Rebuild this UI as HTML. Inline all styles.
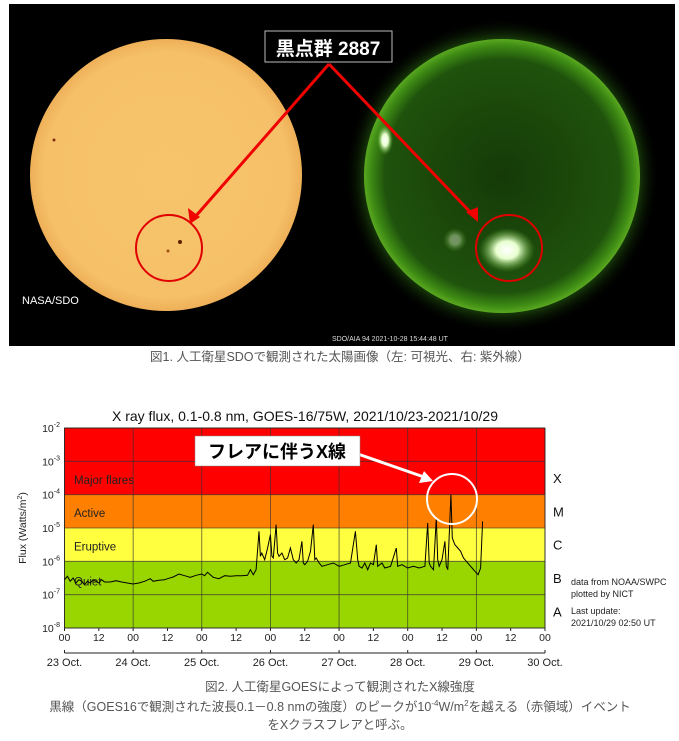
<!DOCTYPE html>
<html><head><meta charset="utf-8"><style>
body{margin:0;background:#fff;width:679px;height:741px;overflow:hidden;font-family:"Liberation Sans","Noto Sans CJK JP",sans-serif}
svg{position:absolute;left:0;top:0}
</style></head><body>
<svg width="679" height="741" viewBox="0 0 679 741">
<defs>
<radialGradient id="ys" cx="50%" cy="50%" r="50%"><stop offset="0" stop-color="#f7c46c"/><stop offset="0.9" stop-color="#f5c068"/><stop offset="1" stop-color="#eeb058"/></radialGradient>
<radialGradient id="gs" cx="50%" cy="50%" r="50%"><stop offset="0" stop-color="#153a08"/><stop offset="0.85" stop-color="#1f520c"/><stop offset="0.95" stop-color="#3d8a14"/><stop offset="1" stop-color="#5aa820"/></radialGradient>
<radialGradient id="gl" cx="50%" cy="50%" r="50%"><stop offset="0.86" stop-color="#2a6a10" stop-opacity="0.6"/><stop offset="1" stop-color="#000" stop-opacity="0"/></radialGradient>
<radialGradient id="fl" cx="50%" cy="50%" r="50%"><stop offset="0" stop-color="#fff"/><stop offset="0.4" stop-color="#e8ffd0"/><stop offset="1" stop-color="#60b030" stop-opacity="0"/></radialGradient>
</defs>
<g>
<rect x="9" y="4" width="666" height="342" fill="#000"/>
<ellipse cx="502" cy="176" rx="158" ry="158" fill="url(#gl)"/>
<ellipse cx="166" cy="175" rx="136" ry="136" fill="url(#ys)"/>
<ellipse cx="502" cy="176" rx="138" ry="137" fill="url(#gs)"/>
<ellipse cx="385" cy="140" rx="8" ry="15" fill="url(#fl)"/>
<ellipse cx="507" cy="250" rx="28" ry="22" fill="url(#fl)"/>
<ellipse cx="455" cy="240" rx="12" ry="12" fill="url(#fl)" opacity="0.4"/>
<circle cx="180" cy="242" r="2" fill="#602000"/><circle cx="168" cy="251" r="1.5" fill="#a05010"/><circle cx="54" cy="140" r="1.5" fill="#803010"/>
<text x="22" y="304" fill="#fff" font-size="11">NASA/SDO</text>
<text x="332" y="341" fill="#ddd" font-size="7">SDO/AIA   94    2021-10-28 15:44:48 UT</text>
<ellipse cx="169" cy="248" rx="33" ry="33" fill="none" stroke="#e00000" stroke-width="2"/>
<ellipse cx="509" cy="248" rx="33" ry="33" fill="none" stroke="#e00000" stroke-width="2"/>
<g stroke="#f00000" stroke-width="3" fill="#f00000">
<line x1="329" y1="64" x2="195" y2="217"/><line x1="329" y1="64" x2="473" y2="215"/>
<polygon points="190,224 188,208 200,217" stroke="none"/><polygon points="478,222 466,212 478,207" stroke="none"/>
</g>
<rect x="265" y="31" width="127" height="31" fill="#000" stroke="#bbb" stroke-width="1"/>
<text x="328" y="55" fill="#fff" font-size="19" font-weight="bold" text-anchor="middle">黒点群 2887</text>
</g>
<text x="340" y="361" fill="#555" font-size="12.5" text-anchor="middle">図1. 人工衛星SDOで観測された太陽画像（左: 可視光、右: 紫外線）</text>
<g id="chart"></g>
<text x="340" y="691" fill="#555" font-size="12.5" text-anchor="middle">図2. 人工衛星GOESによって観測されたX線強度</text>
<text x="340" y="711" fill="#555" font-size="12.5" text-anchor="middle">黒線（GOES16で観測された波長0.1－0.8 nmの強度）のピークが10<tspan font-size="8" dy="-5">-4</tspan><tspan dy="5">W/m</tspan><tspan font-size="8" dy="-5">2</tspan><tspan dy="5">を越える（赤領域）イベント</tspan></text>
<text x="340" y="729" fill="#555" font-size="12.5" text-anchor="middle">をXクラスフレアと呼ぶ。</text>
</svg>
<script>
const hours=[0,1,2,3,4,5,6,7,8,9,10,11,12,13,14,16,18,20,22,24,26,28,30,31,33,35,36,38,40,42,44,46,48,49,50,52,54,56,58,60,62,64,65,66,67,68,68.5,69,70,71,72,72.5,73,74,74.5,75,76,77,78,79,80,81,82,83,83.5,84,85,86,87,87.5,88,89,90,92,94,96,98,100,101.7,102.5,103,104,105,106,107,108,109,109.5,111,112,114,116,116.5,118,120,122,124,126,127,127.5,128,129,130,130.5,131,132,133,133.5,134,135.1,135.6,136.5,137.5,138.5,139.5,140.5,141.5,142.5,143.5,144.6,145.5,146.2];
const logFlux=[-6.55,-6.45,-6.6,-6.5,-6.65,-6.55,-6.6,-6.7,-6.6,-6.65,-6.55,-6.6,-6.65,-6.55,-6.62,-6.62,-6.58,-6.62,-6.65,-6.68,-6.65,-6.6,-6.52,-6.6,-6.57,-6.55,-6.52,-6.47,-6.38,-6.43,-6.48,-6.42,-6.38,-6.43,-6.33,-6.48,-6.52,-6.43,-6.45,-6.43,-6.43,-6.42,-6.25,-6.4,-6.25,-5.1,-5.85,-5.75,-5.95,-5.6,-5.2,-5.85,-5.9,-4.9,-5.75,-5.85,-5.75,-5.95,-5.9,-5.6,-5.95,-6.05,-5.95,-5.4,-6.05,-6.1,-6.0,-5.7,-4.9,-5.95,-5.9,-6.05,-6.15,-6.1,-6.05,-6.15,-6.1,-6.05,-5.1,-5.95,-6.15,-6.2,-6.05,-6.25,-6.05,-6.1,-5.5,-6.15,-6.05,-6.2,-6.15,-5.6,-6.15,-6.1,-6.2,-6.15,-6.2,-6.15,-4.85,-6.05,-6.15,-6.25,-4.7,-5.95,-6.15,-5.95,-5.4,-6.15,-6.25,-4.0,-5.3,-5.5,-5.6,-5.7,-5.9,-6.0,-6.1,-6.2,-6.3,-6.4,-6.2,-4.8];
const yTickExp=[-2,-3,-4,-5,-6,-7,-8];
const hourLabels=["00","12","00","12","00","12","00","12","00","12","00","12","00","12","00"];
const dayLabels=["23 Oct.","24 Oct.","25 Oct.","26 Oct.","27 Oct.","28 Oct.","29 Oct.","30 Oct."];
const bands=[{lo:-4,hi:-2,c:"#ff0000",cls:"X",cy:-3.5},{lo:-5,hi:-4,c:"#ff8000",cls:"M",cy:-4.5},{lo:-6,hi:-5,c:"#ffff40",cls:"C",cy:-5.5},{lo:-7,hi:-6,c:"#99d600",cls:"B",cy:-6.5},{lo:-8,hi:-7,c:"#99d600",cls:"A",cy:-7.5}];
const L=64.5,R=545,T=428,B=628;
const xs=h=>L+(R-L)*h/168, ys=v=>T+(B-T)*(-2-v)/6;
const NS="http://www.w3.org/2000/svg", g=document.getElementById('chart');
function mk(t,a,txt){const e=document.createElementNS(NS,t);for(const k in a)e.setAttribute(k,a[k]);if(txt!=null)e.textContent=txt;g.appendChild(e);return e;}
bands.forEach(b=>{
 const r=mk('rect',{x:L,y:ys(b.hi),width:R-L,height:ys(b.lo)-ys(b.hi),fill:b.c});
 
 
 const c=mk('text',{x:553,y:ys(b.cy)+5,'font-size':13,fill:'#111'},b.cls);
 
 
});
[["Major flares",-3.56],["Active",-4.55],["Eruptive",-5.55],["Quiet",-6.6]].forEach(a=>{
 const t=mk('text',{x:74,y:ys(a[1])+4,'font-size':11.5,fill:'#222'},a[0]);
 
 
});
yTickExp.forEach(e=>{
 const l=mk('line',{x1:L,x2:R,y1:ys(e),y2:ys(e),stroke:'#333','stroke-width':0.8,opacity:0.8});
 
 
 const t=mk('text',{x:60,y:ys(e)+4,'font-size':10.5,fill:'#222','text-anchor':'end'});
 
 
 t.innerHTML='10<tspan font-size="7" dy="-5">'+e+'</tspan>';
});
for(let i=0;i<=7;i++){
 const l=mk('line',{x1:xs(i*24),x2:xs(i*24),y1:T,y2:B,stroke:'#333','stroke-width':0.8,opacity:0.8});
 
 
 const t=mk('text',{x:xs(i*24),y:666,'font-size':11,fill:'#222','text-anchor':'middle'},dayLabels[i]);
 
 
}
hourLabels.forEach((s,i)=>{
 const t=mk('text',{x:xs(i*12),y:641,'font-size':10.5,fill:'#222','text-anchor':'middle'},s);
 
 
 mk('line',{x1:xs(i*12),x2:xs(i*12),y1:B,y2:B+3,stroke:'#222'});
});
mk('line',{x1:L,x2:R,y1:653,y2:653,stroke:'#222'});
for(let i=0;i<=7;i++)mk('line',{x1:xs(i*24),x2:xs(i*24),y1:650,y2:653,stroke:'#222'});
const fr=mk('rect',{x:L,y:T,width:R-L,height:B-T,fill:'none',stroke:'#222','stroke-width':0.8});


const p=mk('path',{d:hours.map((h,i)=>(i?'L':'M')+xs(h).toFixed(1)+','+ys(logFlux[i]).toFixed(1)).join(''),fill:'none',stroke:'#000','stroke-width':1});


const tt=mk('text',{x:305,y:421,'font-size':14,fill:'#111','text-anchor':'middle'},'X ray flux, 0.1-0.8 nm, GOES-16/75W, 2021/10/23-2021/10/29');


const yt=mk('text',{x:0,y:0,'font-size':10.5,fill:'#222','text-anchor':'middle',transform:'translate(26,528) rotate(-90)'});


yt.innerHTML='Flux (Watts/m<tspan font-size="7" dy="-4">2</tspan><tspan dy="4">)</tspan>';
[["data from NOAA/SWPC",585],["plotted by NICT",597],["Last update:",614],["2021/10/29 02:50 UT",626]].forEach(a=>{
 const t=mk('text',{x:571,y:a[1],'font-size':9,fill:'#222'},a[0]);
 
 
});
const ce=mk('ellipse',{cx:452,cy:499,rx:25,ry:25,fill:'none',stroke:'#fff','stroke-width':2});


mk('line',{x1:355,y1:453,x2:424,y2:477,stroke:'#fff','stroke-width':3});
mk('polygon',{points:'433,481 419,483 424,471',fill:'#fff'});
const cb=mk('rect',{x:195,y:436,width:165,height:30,fill:'#fff',stroke:'#888','stroke-width':0.5});


mk('text',{x:277,y:458,'font-size':18,'font-weight':'bold',fill:'#000','text-anchor':'middle'},'フレアに伴うX線');
</script>
</body></html>
